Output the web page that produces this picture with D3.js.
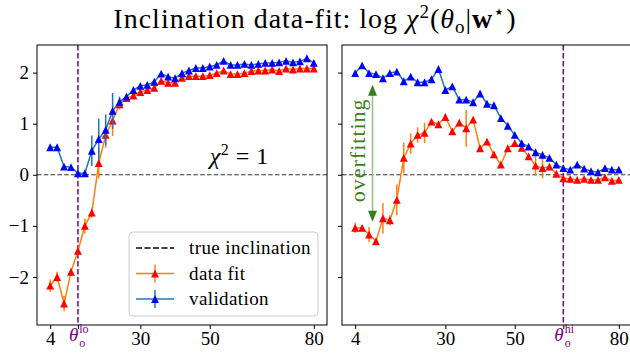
<!DOCTYPE html>
<html>
<head>
<meta charset="utf-8">
<script src="https://cdn.jsdelivr.net/npm/d3@7"></script>
<style>
  body { margin: 0; background: #fff; }
</style>
</head>
<body>
<svg id="chart"></svg>
<script>
// inclination grid (degrees)
const inclinations = [4, 6, 8, 10, 12, 14, 16, 18, 20, 22, 24, 26, 28, 30, 32, 34, 36, 38, 40, 42,
  44, 46, 48, 50, 52, 54, 56, 58, 60, 62, 64, 66, 68, 70, 72, 74, 76, 78, 80];

// left panel (true inclination = theta lo)
const lowFit = [-2.17, -2.00, -2.52, -1.90, -1.49, -1.00, -0.74, 0.23, 0.78, 1.06, 1.38, 1.50, 1.55, 1.62, 1.66, 1.70, 1.84, 1.80, 1.80, 1.90,
  1.93, 1.93, 1.93, 1.95, 1.99, 2.04, 1.97, 1.97, 1.99, 2.03, 2.04, 2.04, 2.06, 2.03, 2.08, 2.06, 2.08, 2.08, 2.08];
const lowFitErr = [0.12, 0.10, 0.15, 0.08, 0.05, 0.15, 0.10, 0.30, 0.25, 0.30, 0.10, 0.05, 0.04, 0.04, 0.04, 0.03, 0.03, 0.03, 0.03, 0.03,
  0.03, 0.03, 0.03, 0.03, 0.03, 0.03, 0.03, 0.03, 0.03, 0.03, 0.03, 0.03, 0.03, 0.03, 0.03, 0.03, 0.03, 0.03, 0.03];
const lowVal = [0.54, 0.54, 0.16, 0.15, 0.03, 0.03, 0.47, 0.70, 0.88, 1.25, 1.43, 1.53, 1.66, 1.74, 1.76, 1.82, 1.98, 1.92, 1.89, 1.99,
  2.04, 2.09, 2.09, 2.12, 2.15, 2.23, 2.15, 2.15, 2.17, 2.15, 2.17, 2.19, 2.19, 2.20, 2.23, 2.20, 2.22, 2.28, 2.19];
const lowValErr = [0.03, 0.03, 0.03, 0.03, 0.03, 0.03, 0.30, 0.40, 0.30, 0.35, 0.10, 0.04, 0.03, 0.03, 0.03, 0.03, 0.03, 0.03, 0.03, 0.03,
  0.03, 0.03, 0.03, 0.03, 0.03, 0.03, 0.03, 0.03, 0.03, 0.03, 0.03, 0.03, 0.03, 0.03, 0.03, 0.03, 0.03, 0.03, 0.03];

// right panel (true inclination = theta hi)
const highFit = [-1.04, -1.04, -1.17, -1.30, -0.85, -0.89, -0.49, 0.33, 0.61, 0.78, 0.82, 1.04, 0.99, 1.13, 0.85, 1.02, 0.91, 1.08, 0.52, 0.65,
  0.40, 0.20, 0.52, 0.62, 0.53, 0.36, 0.18, 0.13, 0.16, 0.02, -0.07, -0.08, -0.10, -0.08, -0.10, -0.10, -0.05, -0.12, -0.10];
const highFitErr = [0.10, 0.05, 0.15, 0.05, 0.30, 0.10, 0.30, 0.30, 0.20, 0.15, 0.20, 0.05, 0.05, 0.05, 0.05, 0.05, 0.36, 0.05, 0.05, 0.05,
  0.05, 0.05, 0.05, 0.05, 0.05, 0.05, 0.20, 0.20, 0.05, 0.03, 0.03, 0.03, 0.03, 0.03, 0.03, 0.03, 0.03, 0.03, 0.03];
const highVal = [1.99, 2.14, 1.99, 1.97, 1.89, 1.99, 2.02, 1.83, 1.92, 1.81, 1.81, 1.87, 2.07, 1.66, 1.73, 1.47, 1.47, 1.42, 1.59, 1.39,
  1.36, 1.11, 0.96, 0.78, 0.62, 0.55, 0.44, 0.39, 0.33, 0.20, 0.13, 0.10, 0.20, 0.12, 0.07, 0.05, 0.13, 0.10, 0.10];
const highValErr = [0.03, 0.03, 0.03, 0.03, 0.03, 0.03, 0.03, 0.03, 0.03, 0.03, 0.03, 0.03, 0.03, 0.03, 0.03, 0.03, 0.03, 0.03, 0.03, 0.03,
  0.03, 0.03, 0.03, 0.03, 0.03, 0.03, 0.03, 0.03, 0.03, 0.03, 0.03, 0.03, 0.03, 0.03, 0.03, 0.03, 0.03, 0.03, 0.03];

const xTicks = [4, 30, 50, 80];
const yTicks = [-2, -1, 0, 1, 2];
const thetaLo = 12;
const thetaHi = 64;
const overfitArrow = [9, -0.92, 1.76]; // x, y from, y to

const width = 630;
const height = 353;
const serif = '"Liberation Serif", "Times New Roman", serif';
const svg = d3.select("#chart").attr("width", width).attr("height", height)
  .style("font-family", serif);

const plotTop = 45, plotBottom = 325;
const xLeft = d3.scaleLinear().domain([0.2, 83.8]).range([37, 327]);
const xRight = d3.scaleLinear().domain([0.2, 83.8]).range([342, 632]);
const y = d3.scaleLinear().domain([-2.94, 2.54]).range([plotBottom, plotTop]);

const fitLine = "#ff7f0e", fitMarker = "red";
const valLine = "#1f77b4", valMarker = "blue";
const purple = "purple";

// matplotlib-style "^" marker (as wide as it is tall, centred on its box)
const triangleUp = {
  draw(ctx, size) {
    const r = Math.sqrt(size) / 2;
    ctx.moveTo(0, -r);
    ctx.lineTo(r, r);
    ctx.lineTo(-r, r);
    ctx.closePath();
  }
};
const tri = d3.symbol(triangleUp, 62);

// title
const title = svg.append("text")
  .attr("x", 315).attr("y", 28)
  .attr("text-anchor", "middle")
  .style("font-family", serif)
  .style("font-size", "28px")
  .style("letter-spacing", "1px");
title.append("tspan").text("Inclination data-fit: log ");
title.append("tspan").style("font-style", "italic").text("χ");
title.append("tspan").attr("dy", -10).style("font-size", "19px").text("2");
title.append("tspan").attr("dy", 10).text("(");
title.append("tspan").style("font-style", "italic").text("θ");
title.append("tspan").attr("dy", 5).style("font-size", "19px").text("o");
title.append("tspan").attr("dy", -5).text("|");
title.append("tspan").style("font-weight", "bold").text("w");
title.append("tspan").attr("dy", -10).style("font-size", "19px").text("⋆");
title.append("tspan").attr("dy", 10).text(")");

function drawSeries(g, x, ys, es, lineColor, markerColor) {
  const pts = inclinations.map((v, i) => ({x: v, y: ys[i], e: es[i]}));
  g.append("path")
    .datum(pts)
    .attr("fill", "none")
    .attr("stroke", lineColor)
    .attr("stroke-width", 1.5)
    .attr("d", d3.line().x(d => x(d.x)).y(d => y(d.y)));
  g.append("g").selectAll("line")
    .data(pts)
    .enter().append("line")
    .attr("x1", d => x(d.x)).attr("x2", d => x(d.x))
    .attr("y1", d => y(d.y - d.e)).attr("y2", d => y(d.y + d.e))
    .attr("stroke", lineColor)
    .attr("stroke-width", 1.5);
  g.append("g").selectAll("path")
    .data(pts)
    .enter().append("path")
    .attr("d", tri)
    .attr("transform", d => `translate(${x(d.x)},${y(d.y)})`)
    .attr("fill", markerColor);
}

function thetaLabel(g, xpos, sup) {
  const t = g.append("text")
    .attr("x", xpos - 4).attr("y", 341)
    .attr("text-anchor", "start")
    .attr("fill", purple)
    .style("font-family", serif)
    .style("font-size", "19px");
  t.append("tspan").attr("dx", -5).style("font-style", "italic").text("θ");
  t.append("tspan").attr("dx", 1).attr("dy", 6).style("font-size", "12px").text("o");
  t.append("tspan").attr("dx", -6).attr("dy", -14).style("font-size", "12px").text(sup);
}

function drawPanel(x, theta, sup, yLabels) {
  const g = svg.append("g");
  const clipId = "clip" + sup;
  svg.append("defs").append("clipPath").attr("id", clipId)
    .append("rect")
    .attr("x", x.range()[0]).attr("y", plotTop)
    .attr("width", x.range()[1] - x.range()[0]).attr("height", plotBottom - plotTop);

  const plot = g.append("g").attr("clip-path", `url(#${clipId})`);

  // chi^2 = 1 reference
  plot.append("line")
    .attr("x1", x.range()[0]).attr("x2", x.range()[1])
    .attr("y1", y(0)).attr("y2", y(0))
    .attr("stroke", "#333")
    .attr("stroke-width", 1)
    .attr("stroke-dasharray", "4.5,2.3");

  // true inclination
  plot.append("line")
    .attr("x1", x(theta)).attr("x2", x(theta))
    .attr("y1", plotTop).attr("y2", plotBottom)
    .attr("stroke", purple)
    .attr("stroke-width", 1.5)
    .attr("stroke-dasharray", "5.5,2.5");

  // frame
  g.append("rect")
    .attr("x", x.range()[0]).attr("y", plotTop)
    .attr("width", x.range()[1] - x.range()[0]).attr("height", plotBottom - plotTop)
    .attr("fill", "none")
    .attr("stroke", "black")
    .attr("stroke-width", 1);

  // x ticks
  const xt = g.append("g").attr("transform", `translate(0,${plotBottom})`)
    .call(d3.axisBottom(x).tickValues(xTicks.concat([theta])).tickSize(4).tickPadding(3).tickFormat(d => d === theta ? "" : d));
  xt.attr("font-family", null).attr("font-size", null);
  xt.select(".domain").remove();
  xt.selectAll("text").style("font-family", serif).style("font-size", "19px").attr("fill", "black");
  thetaLabel(g, x(theta), sup);

  // y ticks
  const yt = g.append("g").attr("transform", `translate(${x.range()[0]},0)`)
    .call(d3.axisLeft(y).tickValues(yTicks).tickSize(4).tickPadding(4)
      .tickFormat(d => yLabels ? (d < 0 ? "\u2212" + Math.abs(d) : d) : ""));
  yt.attr("font-family", null).attr("font-size", null);
  yt.select(".domain").remove();
  yt.selectAll("text").style("font-family", serif).style("font-size", "19px").attr("fill", "black");

  return plot;
}

// left panel
const left = drawPanel(xLeft, thetaLo, "lo", true);
drawSeries(left, xLeft, lowFit, lowFitErr, fitLine, fitMarker);
drawSeries(left, xLeft, lowVal, lowValErr, valLine, valMarker);

const chi = svg.append("text")
  .attr("x", xLeft(50)).attr("y", y(0.21))
  .style("font-family", serif)
  .style("font-size", "24px")
  .style("letter-spacing", "0.5px");
chi.append("tspan").style("font-style", "italic").text("χ");
chi.append("tspan").attr("dy", -9).style("font-size", "16px").text("2");
chi.append("tspan").attr("dy", 9).text(" = 1");

// legend
const legend = svg.append("g").attr("transform", "translate(129,232)");
legend.append("rect")
  .attr("width", 189).attr("height", 84)
  .attr("rx", 4)
  .attr("fill", "white").attr("fill-opacity", 0.8)
  .attr("stroke", "#ccc");
const entries = [
  {label: "true inclination", dash: true},
  {label: "data fit", line: fitLine, marker: fitMarker},
  {label: "validation", line: valLine, marker: valMarker}
];
entries.forEach((e, i) => {
  const cy = 16 + i * 25.5;
  const row = legend.append("g").attr("transform", `translate(0,${cy})`);
  if (e.dash) {
    row.append("line").attr("x1", 7).attr("x2", 45)
      .attr("stroke", "black").attr("stroke-width", 1.5).attr("stroke-dasharray", "6,2.5");
  } else {
    row.append("line").attr("x1", 7).attr("x2", 45).attr("stroke", e.line).attr("stroke-width", 1.5);
    row.append("line").attr("x1", 26).attr("x2", 26).attr("y1", -9).attr("y2", 9)
      .attr("stroke", e.line).attr("stroke-width", 1.5);
    row.append("path").attr("d", tri).attr("transform", "translate(26,0)").attr("fill", e.marker);
  }
  row.append("text").attr("x", 60).attr("y", 6)
    .style("font-family", serif)
    .style("font-size", "19px")
    .style("letter-spacing", "0.4px")
    .text(e.label);
});

// right panel
const right = drawPanel(xRight, thetaHi, "hi", false);
drawSeries(right, xRight, highFit, highFitErr, fitLine, fitMarker);
drawSeries(right, xRight, highVal, highValErr, valLine, valMarker);

// overfitting arrow
const green = "#3a7d1c";
const ax = xRight(overfitArrow[0]);
const ay1 = y(overfitArrow[1]), ay2 = y(overfitArrow[2]);
svg.append("line")
  .attr("x1", ax).attr("x2", ax)
  .attr("y1", ay2 + 10).attr("y2", ay1 - 10)
  .attr("stroke", "#93c27e").attr("stroke-width", 1.5);
svg.append("path")
  .attr("d", `M${ax},${ay2}L${ax - 4.5},${ay2 + 11}L${ax + 4.5},${ay2 + 11}Z`)
  .attr("fill", green);
svg.append("path")
  .attr("d", `M${ax},${ay1}L${ax - 4.5},${ay1 - 11}L${ax + 4.5},${ay1 - 11}Z`)
  .attr("fill", green);
svg.append("text")
  .attr("transform", `translate(${ax - 8},${(ay1 + ay2) / 2 - 3}) rotate(-90)`)
  .attr("text-anchor", "middle")
  .attr("fill", green)
  .style("font-family", serif)
  .style("font-size", "22px")
  .style("letter-spacing", "1px")
  .text("overfitting");
</script>
</body>
</html>
